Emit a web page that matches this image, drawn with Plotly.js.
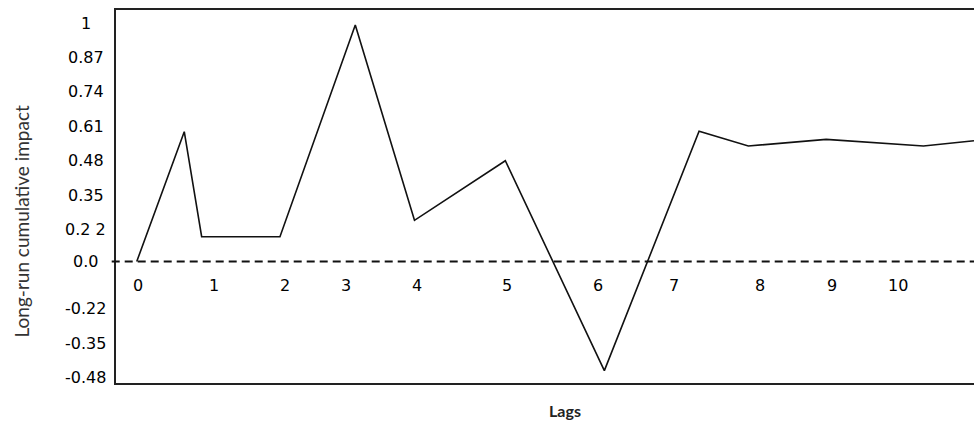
<!DOCTYPE html>
<html>
<head>
<meta charset="utf-8">
<script src="https://cdn.plot.ly/plotly-3.0.1.min.js"></script>
<style>html,body{margin:0;padding:0;background:#fff;}#chart{width:974px;height:423px;}</style>
</head>
<body>
<div id="chart"></div>
<script>
// Line vertices (x in lag-axis units, y in axis units where the dashed line is 0)
var lagPos = [-0.02, 0.605, 0.834, 1.864, 2.855, 3.634, 4.829, 6.132, 7.378, 8.026, 9.05, 10.33, 10.995];
var impact = [0.0, 0.545, 0.104, 0.104, 0.993, 0.173, 0.423, -0.458, 0.547, 0.485, 0.513, 0.485, 0.507];

// x tick labels (drawn under the dashed zero line) and their positions
var xTickLabels = ['0','1','2','3','4','5','6','7','8','9','10'];
var xTickPos = [0, 0.996, 1.930, 2.729, 3.671, 4.855, 6.053, 7.053, 8.180, 9.124, 10];

// y tick labels as printed and their positions on the axis
var yTickLabels = ['1','0.87','0.74','0.61','0.48','0.35','0.2 2','0.0','-0.22','-0.35','-0.48'];
var yTickPos = [1.0, 0.856, 0.7145, 0.5676, 0.4232, 0.2779, 0.1352, 0, -0.198, -0.3434, -0.486];

var xTitle = 'Lags';
var yTitle = 'Long-run cumulative impact';

var tickFont = {family: 'DejaVu Sans, Verdana, sans-serif', size: 16, color: '#000'};

var annotations = [];
xTickLabels.forEach(function (t, i) {
  annotations.push({
    xref: 'x', yref: 'y', x: xTickPos[i], y: 0, text: t, showarrow: false,
    xanchor: 'center', yanchor: 'middle', yshift: -24, font: tickFont
  });
});
yTickLabels.forEach(function (t, i) {
  annotations.push({
    xref: 'paper', yref: 'y', x: 0, y: yTickPos[i], text: t, showarrow: false,
    xanchor: 'center', yanchor: 'middle', xshift: -30.5, font: tickFont
  });
});
annotations.push({
  xref: 'paper', yref: 'paper', x: 0, y: 0.5, xshift: -95, yshift: -25,
  text: yTitle, textangle: -90, showarrow: false, xanchor: 'center', yanchor: 'middle',
  font: {family: 'Lato, Carlito, sans-serif', size: 19, color: '#333'}
});
annotations.push({
  xref: 'paper', yref: 'paper', x: 0.5, y: 0, xshift: 20, yshift: -27,
  text: xTitle, showarrow: false, xanchor: 'center', yanchor: 'middle',
  font: {family: 'Lato, Carlito, sans-serif', size: 16, color: '#222', weight: 'bold'}
});

var trace = {
  type: 'scatter', mode: 'lines', x: lagPos, y: impact,
  line: {color: '#111', width: 1.6}, hoverinfo: 'skip', showlegend: false
};

var layout = {
  width: 974, height: 423,
  margin: {l: 116, r: 0, t: 10, b: 40, pad: 0},
  paper_bgcolor: '#fff', plot_bgcolor: '#fff',
  showlegend: false,
  xaxis: {range: [-0.293, 10.995], showgrid: false, zeroline: false, showticklabels: false,
          ticks: '', showline: true, mirror: true, linecolor: '#222', linewidth: 2, fixedrange: true},
  yaxis: {range: [-0.510, 1.056], showgrid: false, zeroline: false, showticklabels: false,
          ticks: '', showline: true, mirror: false, linecolor: '#222', linewidth: 2, fixedrange: true},
  shapes: [{
    type: 'line', xref: 'paper', yref: 'y', x0: -0.005, x1: 1, y0: 0, y1: 0,
    line: {color: '#111', width: 2, dash: '8px,5px'}
  }],
  annotations: annotations
};

Plotly.newPlot('chart', [trace], layout, {displayModeBar: false, staticPlot: true});
</script>
</body>
</html>
